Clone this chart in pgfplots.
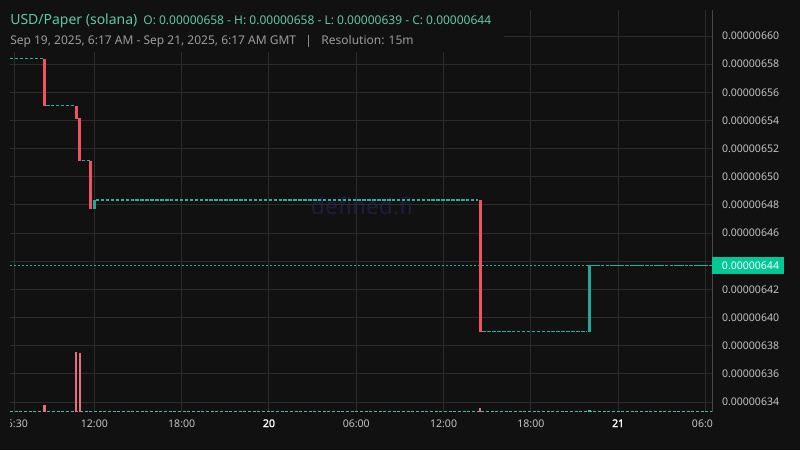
\documentclass[border=0pt]{standalone}
\usepackage{fontspec}
\setmainfont{Noto Sans}
\usepackage{pgfplots}
\pgfplotsset{compat=1.18}

\definecolor{bg}{HTML}{111111}
\definecolor{gridc}{HTML}{2C2C2C}
\definecolor{axisc}{HTML}{484848}
\definecolor{up}{HTML}{26A69A}
\definecolor{down}{HTML}{EF5360}
\definecolor{volup}{HTML}{4DB6A8}
\definecolor{voldown}{HTML}{E8707E}
\definecolor{flat}{HTML}{2AB0A0}
\definecolor{pricebox}{HTML}{00C896}
\definecolor{titlec}{HTML}{5FC9A6}
\definecolor{subc}{HTML}{9C9C9C}
\definecolor{tickc}{HTML}{C4C4C4}
\definecolor{wmark}{HTML}{1D1D3A}
\newcommand{\daylab}[1]{{\addfontfeatures{FakeBold=1.6}\textcolor{white}{#1}}}

% prices in units of 1e-8, time in hours from Sep 19 00:00
\begin{document}
\begin{tikzpicture}[x=0.75pt,y=0.75pt]
\useasboundingbox (0,0) rectangle (800,450);
\fill[bg] (0,0) rectangle (800,450);
\node[text=wmark, anchor=base, font=\fontsize{17.2}{20}\selectfont] at (362,235) {defined.fi};

\begin{axis}[
  at={(7.5pt,28.5pt)}, anchor=south west,
  scale only axis, width=526.5pt, height=301.5pt,
  xmin=6.2, xmax=54.45, ymin=633.29, ymax=661.85,
  axis x line*=bottom, axis y line*=right,
  x axis line style={draw=none},
  y axis line style={draw=axisc, line width=0.75pt},
  xtick={6.5,12,18,24,30,36,42,48,54},
  xticklabels={06:30,12:00,18:00,\daylab{20},06:00,12:00,18:00,\daylab{21},06:00},
  ytick={634,636,...,660},
  % 644 is hidden under the last-price tag
  yticklabels={0.00000634,0.00000636,0.00000638,0.00000640,0.00000642,,0.00000646,0.00000648,0.00000650,0.00000652,0.00000654,0.00000656,0.00000658,0.00000660},
  major tick length=0pt,
  grid=major, major grid style={draw=gridc, line width=0.75pt},
  tick label style={font=\fontsize{7.9}{9}\selectfont, text=tickc},
  yticklabel style={anchor=west, xshift=4pt},
  xticklabel style={yshift=-2pt},
  unbounded coords=jump,
]
% flat (doji) runs
\addplot[flat, line width=0.8pt, dash pattern=on 2.6pt off 1.1pt] coordinates {
  (6.20,658.4) (8.45,658.4) (8.5,nan)
  (8.68,655.05) (10.65,655.05) (10.7,nan)
  (11.15,651.15) (11.70,651.15) (11.72,nan)
  (12.11,648.35) (38.38,648.35) (38.4,nan)
  (38.67,639.0) (45.85,639.0) (45.9,nan)
  (46.12,643.7) (54.45,643.7)
};
% last price line
\addplot[flat, line width=0.8pt, dash pattern=on 1.5pt off 1.5pt] coordinates {(6.2,643.7) (54.45,643.7)};
% down candles
\addplot[down, line width=2.1pt] coordinates {
  (8.57,658.4) (8.57,655.05) (8.6,nan)
  (10.75,655.05) (10.75,654.1) (10.8,nan)
  (11.0,654.15) (11.0,651.15) (11.05,nan)
  (11.75,651.15) (11.75,647.7) (11.8,nan)
  (38.52,648.35) (38.52,639.0)
};
% up candles
\addplot[up, line width=2.1pt] coordinates {
  (12.02,647.7) (12.02,648.35) (12.1,nan)
  (46.03,639.0) (46.03,643.7)
};
\end{axis}

% volume pane
\begin{axis}[
  at={(7.5pt,28.5pt)}, anchor=south west,
  scale only axis, width=526.5pt, height=301.5pt,
  xmin=6.2, xmax=54.45, ymin=0, ymax=402,
  hide axis,
]
\addplot[volup, line width=1pt, dash pattern=on 2.2pt off 1.3pt] coordinates {(6.2,0.8) (54.45,0.8)};
\addplot[ycomb, voldown, line width=1.6pt] coordinates {(8.57,7) (10.75,60) (11.0,59) (38.52,4)};
\addplot[ycomb, volup, line width=1.6pt] coordinates {(46.03,2)};
\end{axis}

% header
\fill[bg] (0,398) rectangle (504,450);
\node[anchor=base west, inner sep=0pt, text=titlec, font=\fontsize{10.5}{12}\selectfont] at (10,425)
  {USD/Paper (solana)\hspace{4.5pt}{\fontsize{9}{11}\selectfont O: 0.00000658 - H: 0.00000658 - L: 0.00000639 - C: 0.00000644}};
\node[anchor=base west, inner sep=0pt, text=subc, font=\fontsize{9}{11}\selectfont] at (10,405)
  {Sep 19, 2025, 6:17 AM - Sep 21, 2025, 6:17 AM GMT\hspace{7pt}|\hspace{7pt}Resolution: 15m};

% last price tag
\fill[pricebox] (712,176) rectangle (784,193);
\node[text=white, font=\fontsize{7.9}{9}\selectfont, inner sep=0pt] at (750.5,184.5) {0.00000644};

% clip time labels at the pane edges
\fill[bg] (0,0) rectangle (10,37);
\fill[bg] (712.6,0) rectangle (800,37);
\end{tikzpicture}
\end{document}
